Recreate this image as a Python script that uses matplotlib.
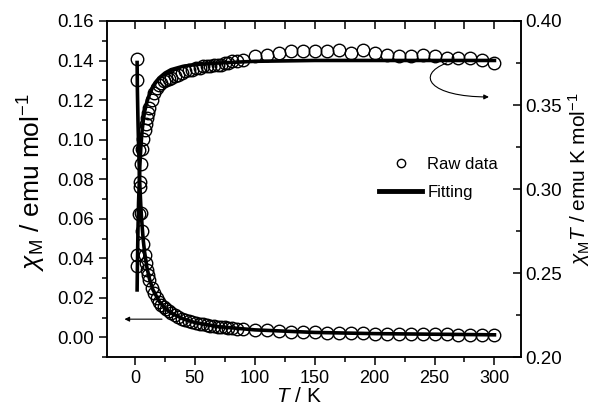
import matplotlib
matplotlib.use("Agg")
import matplotlib.pyplot as plt
from matplotlib.ticker import MultipleLocator
from matplotlib.lines import Line2D
from matplotlib.path import Path
from matplotlib.patches import FancyArrowPatch

plt.rcParams["font.family"] = ["Liberation Sans", "DejaVu Sans"]
plt.rcParams["mathtext.fontset"] = "custom"
plt.rcParams["mathtext.rm"] = "Liberation Sans"
plt.rcParams["mathtext.it"] = "Liberation Sans:italic"

# measured points
temp = [1.8, 2, 3, 4, 5, 6, 7, 8, 9, 10, 11, 12, 14, 16, 18, 20, 22, 24, 26, 28,
        30, 33, 36, 39, 42, 45, 48, 51, 54, 57, 60, 63, 66, 69, 72, 75, 78, 81, 85, 90,
        100, 110, 120, 130, 140, 150, 160, 170, 180, 190, 200, 210, 220, 230, 240,
        250, 260, 270, 280, 290, 300]
chi_m = [0.141, 0.130, 0.095, 0.076, 0.063, 0.054, 0.0471, 0.0419, 0.0377, 0.0342,
         0.0314, 0.0290, 0.0252, 0.0223, 0.0200, 0.0181, 0.0165, 0.0153, 0.0141, 0.0131,
         0.0123, 0.0112, 0.0103, 0.0095, 0.0089, 0.0083, 0.0078, 0.0073, 0.0069, 0.0066,
         0.0063, 0.0060, 0.0057, 0.0055, 0.0052, 0.0050, 0.0048, 0.0047, 0.0044, 0.0042,
         0.0038, 0.0035, 0.0032, 0.0029, 0.0027, 0.0025, 0.0024, 0.0023, 0.0021, 0.0020,
         0.0019, 0.0018, 0.0017, 0.0016, 0.0016, 0.0015, 0.0015, 0.0014, 0.0013, 0.0013,
         0.0013]
chi_mt = [0.254, 0.261, 0.285, 0.304, 0.315, 0.324, 0.330, 0.335, 0.339, 0.342,
          0.345, 0.348, 0.353, 0.357, 0.360, 0.362, 0.363, 0.364, 0.365, 0.3655,
          0.366, 0.367, 0.368, 0.369, 0.370, 0.371, 0.371, 0.372, 0.372, 0.373,
          0.373, 0.373, 0.374, 0.374, 0.374, 0.375, 0.375, 0.376, 0.376, 0.377,
          0.379, 0.380, 0.381, 0.382, 0.382, 0.382, 0.382, 0.383, 0.381, 0.383,
          0.381, 0.380, 0.379, 0.379, 0.380, 0.379, 0.378, 0.378, 0.378, 0.377,
          0.375]

# fitted curves
fit_t = [1.8, 2, 2.5, 3, 4, 5, 6, 7, 8, 10, 12, 15, 20, 25, 30, 40, 50, 70, 100,
         150, 200, 300]
fit_chi_m = [0.139, 0.126, 0.110, 0.097, 0.078, 0.065, 0.056, 0.0487, 0.0433, 0.0353,
             0.0298, 0.0241, 0.0184, 0.0148, 0.0124, 0.0094, 0.0075, 0.0054, 0.0038,
             0.0025, 0.0019, 0.0013]
fit_chi_mt = [0.240, 0.252, 0.275, 0.292, 0.313, 0.326, 0.335, 0.341, 0.346, 0.352,
              0.356, 0.361, 0.366, 0.369, 0.371, 0.373, 0.374, 0.375, 0.376,
              0.3765, 0.3765, 0.3765]

fig = plt.figure(figsize=(6.0, 4.11), dpi=100)
ax = fig.add_axes([0.178, 0.131, 0.690, 0.818])
ax2 = ax.twinx()

mk = dict(marker="o", ms=9, mfc="none", mec="black", mew=1.0, ls="none")
ax.plot(temp, chi_m, zorder=2, **mk)
ax2.plot(temp, chi_mt, zorder=2, **mk)
ax.plot(fit_t, fit_chi_m, color="black", lw=2.6, zorder=3)
ax2.plot(fit_t, fit_chi_mt, color="black", lw=2.6, zorder=3)

ax.set_xlim(-23.5, 322)
ax.set_ylim(-0.01, 0.16)
ax2.set_ylim(0.20, 0.40)

ax.xaxis.set_major_locator(MultipleLocator(50))
ax.xaxis.set_minor_locator(MultipleLocator(25))
ax.yaxis.set_major_locator(MultipleLocator(0.02))
ax.yaxis.set_minor_locator(MultipleLocator(0.01))
ax2.yaxis.set_major_locator(MultipleLocator(0.05))
ax2.yaxis.set_minor_locator(MultipleLocator(0.025))
ax.yaxis.set_major_formatter(lambda v, p: f"{v:.2f}")
ax2.yaxis.set_major_formatter(lambda v, p: f"{v:.2f}")

ax.tick_params(axis="both", which="major", direction="out", length=6, width=1.1,
               labelsize=13.5)
ax.tick_params(axis="x", which="major", labelsize=13)
ax.tick_params(axis="both", which="minor", direction="out", length=3.5, width=1.1)
ax2.tick_params(axis="y", which="major", direction="in", length=6, width=1.1,
                labelsize=13.5)
ax2.tick_params(axis="y", which="minor", direction="in", length=3.5, width=1.1)
ax2.xaxis.set_visible(True)
ax2.tick_params(axis="x", which="both", top=True, bottom=False, labeltop=False,
                labelbottom=False, direction="in", length=6, width=1.1)
for a in (ax, ax2):
    for s in a.spines.values():
        s.set_linewidth(1.1)

ax.set_xlabel(r"$T$ / K", fontsize=15)
ax.xaxis.set_label_coords(0.464, -0.09)
ax.set_ylabel(r"$\chi_{\rm M}$ / emu mol$^{-1}$", fontsize=19)
ax.yaxis.set_label_coords(-0.142, 0.52)
ax2.set_ylabel(r"$\chi_{\rm M}T$ / emu K mol$^{-1}$", fontsize=15)
ax2.yaxis.set_label_coords(1.11, 0.53)

# arrows pointing to each axis
ax.annotate("", xy=(0.036, 0.113), xytext=(0.140, 0.113), xycoords="axes fraction",
            arrowprops=dict(arrowstyle="-|>", lw=0.8, color="black",
                            mutation_scale=7))
hook = Path([(0.821, 0.875), (0.744, 0.839), (0.780, 0.774), (0.923, 0.774)],
            [Path.MOVETO, Path.CURVE4, Path.CURVE4, Path.CURVE4])
ax.add_patch(FancyArrowPatch(path=hook, arrowstyle="-|>", lw=0.8, color="black",
                             mutation_scale=7, transform=ax.transAxes))

handles = [Line2D([], [], marker="o", ms=6, mfc="none", mec="black", ls="none"),
           Line2D([], [], color="black", lw=3.5)]
ax.legend(handles, ["Raw data", "Fitting"], loc="upper left",
          bbox_to_anchor=(0.637, 0.62), frameon=False, fontsize=12,
          handlelength=2.6, handletextpad=0.3, labelspacing=0.75, borderpad=0)

fig.savefig("out.png", dpi=100)
